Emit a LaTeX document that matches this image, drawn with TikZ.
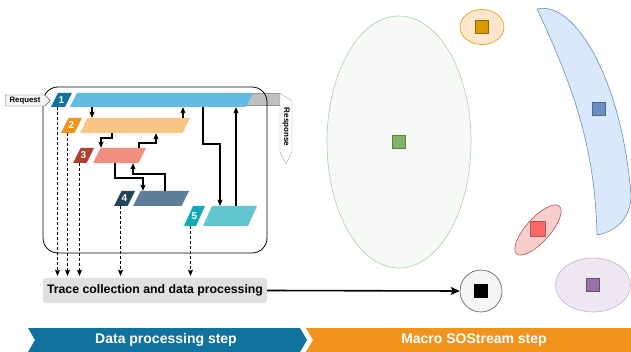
\documentclass[tikz,border=0pt]{standalone}
\usepackage{fontspec}
\setmainfont{Liberation Sans}
\usetikzlibrary{shapes.geometric,shapes.symbols,arrows.meta}

\definecolor{lblA}{HTML}{10739E}
\definecolor{barA}{HTML}{64BBE2}
\definecolor{lblB}{HTML}{F2931E}
\definecolor{barB}{HTML}{F9C585}
\definecolor{lblC}{HTML}{AE4132}
\definecolor{barC}{HTML}{F08E81}
\definecolor{lblD}{HTML}{23445D}
\definecolor{barD}{HTML}{5D7F99}
\definecolor{lblE}{HTML}{12AAB5}
\definecolor{barE}{HTML}{61C6CE}
\definecolor{tracegray}{HTML}{E0E0E0}

\begin{document}
\begin{tikzpicture}[x=1pt,y=-1pt,>={Stealth[length=6pt,width=5pt,inset=1pt]},
	para/.style 2 args={inner sep=0pt, minimum height=15, text=white, font=\bfseries\fontsize{10}{10}\selectfont,
		path picture={\fill[#1] (path picture bounding box.south west) -- ([xshift=-#2]path picture bounding box.south east)
			-- (path picture bounding box.north east) -- ([xshift=#2]path picture bounding box.north west) -- cycle;}},
	flow/.style={->, line width=1.1pt},
	trc/.style={->, densely dashed, line width=0.6pt, shorten >=2pt},
	cell/.style={draw, line width=0.6pt, minimum size=13, inner sep=0pt},
	banner/.style={text=white, font=\bfseries\fontsize{14}{14}\selectfont}]

		\useasboundingbox (0,0) rectangle (631,352);

		% response
		\filldraw[fill=gray!50, draw=gray!80] (230,93) -- (280,93) -- (280,105) -- (230,105) -- cycle;
		\filldraw[fill=white, draw=gray!80] (280,93) -- (292,101) -- (292,152) -- (286,164) -- (280,152) -- cycle;
		\node[rotate=-90, font=\bfseries\fontsize{8}{8}\selectfont] (resp) at (286,127) {Response};

		\node[draw, rounded corners=15, line width=0.8pt, minimum width=224, minimum height=166] (svc) at (155,170) {};

		\node[signal, signal to=east, draw=gray!70!black, fill=gray!8, minimum width=45, minimum height=11,
			inner sep=1pt, font=\bfseries\fontsize{7.8}{8}\selectfont] (req) at (25,100.5) {Request};

		\node[para={lblA}{7pt}, minimum width=21, minimum height=14] (l1) at (61.5,100) {1};
		\node[para={barA}{7pt}, minimum width=183, minimum height=14] (b1) at (161.5,100) {};
		\node[para={lblB}{7.5pt}, minimum width=21] (l2) at (71.5,125.5) {2};
		\node[para={barB}{7.5pt}, minimum width=110] (b2) at (135,125.5) {};
		\node[para={lblC}{7.5pt}, minimum width=21] (l3) at (83.5,155.5) {3};
		\node[para={barC}{7.5pt}, minimum width=53] (b3) at (119.5,155.5) {};
		\node[para={lblD}{7.5pt}, minimum width=21] (l4) at (124.5,198.5) {4};
		\node[para={barD}{7.5pt}, minimum width=56] (b4) at (161,198.5) {};
		\node[para={lblE}{9pt}, minimum width=21, minimum height=20] (l5) at (194.5,216) {5};
		\node[para={barE}{9pt}, minimum width=54, minimum height=20] (b5) at (230,216) {};

		\draw[flow] (b1.south -| 92,0) -- (b2.north -| 92,0);
		\draw[flow] (b2.north -| 183,0) -- (b1.south -| 183,0);
		\draw[flow] (b2.south -| 112,0) -- (112,138) -- (101,138) -- (b3.north -| 101,0);
		\draw[flow] (b3.north -| 139,0) -- (139,143) -- (156,143) -- (b2.south -| 156,0);
		\draw[flow] (b3.south -| 115,0) -- (115,178) -- (143,178) -- (b4.north -| 143,0);
		\draw[flow] (b4.north -| 165,0) -- (165,174) -- (133,174) -- (b3.south -| 133,0);
		\draw[flow] (b1.south -| 203,0) -- (203,144) -- (220,144) -- (b5.north -| 220,0);
		\draw[flow] (b5.north -| 236,0) -- (b1.south -| 236,0);

		\node[fill=tracegray, rounded corners=3, minimum width=224, minimum height=25,
			font=\bfseries\fontsize{12.3}{13}\selectfont] (trace) at (155,290.5) {Trace collection and data processing};

		\foreach \n in {l1,l2,l3,l4,l5}
			\draw[trc] ([xshift=-4pt]\n.south) -- ([xshift=-4pt]\n.south |- trace.north);

		% clusters
		\node[ellipse, draw=green!50!black!35, fill=green!25!black!3!white, line width=0.6pt, minimum width=144, minimum height=252] (gclu) at (399,142) {};
		\node[cell, fill={rgb,255:red,130;green,179;blue,102}, draw={rgb,255:red,90;green,130;blue,70}] (gsq) at (gclu) {};

		\node[ellipse, draw={rgb,255:red,215;green,155;blue,0}, fill={rgb,255:red,255;green,230;blue,204}, line width=0.6pt, minimum width=44, minimum height=35] (oclu) at (482,27) {};
		\node[cell, fill={rgb,255:red,215;green,155;blue,0}, draw={rgb,255:red,150;green,105;blue,0}] (osq) at (oclu) {};

		\filldraw[fill={rgb,255:red,218;green,232;blue,252}, draw={rgb,255:red,108;green,142;blue,191}, line width=0.6pt]
			(537,9) .. controls (575,0) and (622,80) .. (631,195) .. controls (631,220) and (614,232) .. (597,235)
			.. controls (595,150) and (575,90) .. (537,9) -- cycle;
		\node[cell, fill={rgb,255:red,108;green,142;blue,191}, draw={rgb,255:red,70;green,105;blue,150}] (bsq) at (599,109) {};

		\node[ellipse, rotate=48, draw={rgb,255:red,184;green,84;blue,80}, fill={rgb,255:red,248;green,206;blue,204}, line width=0.6pt, minimum width=64, minimum height=24] (rclu) at (538,230) {};
		\node[cell, minimum size=15, fill={rgb,255:red,255;green,102;blue,102}, draw={rgb,255:red,184;green,84;blue,80}] (rsq) at (538,229) {};

		\node[ellipse, draw={rgb,255:red,198;green,174;blue,210}, fill={rgb,255:red,238;green,231;blue,242}, line width=0.6pt, minimum width=75, minimum height=54] (pclu) at (593,285) {};
		\node[cell, fill={rgb,255:red,150;green,115;blue,166}, draw={rgb,255:red,105;green,75;blue,120}] (psq) at (pclu) {};

		\node[circle, draw=gray!70!black, fill=gray!8, line width=0.6pt, minimum size=42] (macro) at (481,291) {};
		\node[cell, fill=black] (msq) at (macro) {};

		\draw[->, line width=1.6pt, >={Stealth[length=9pt,width=8pt,inset=2pt]}] (trace.east) -- (macro.west);

		% steps
		\fill[lblA] (28,328) -- (300,328) -- (307,340) -- (300,352) -- (28,352) -- (35,340) -- cycle;
		\fill[lblB] (306,328) -- (631,328) -- (631,352) -- (306,352) -- (313,340) -- cycle;
		\node[banner] (dps) at (166,340) {Data processing step};
		\node[banner] (mss) at (474,340) {Macro SOStream step};
	\end{tikzpicture}
\end{document}
